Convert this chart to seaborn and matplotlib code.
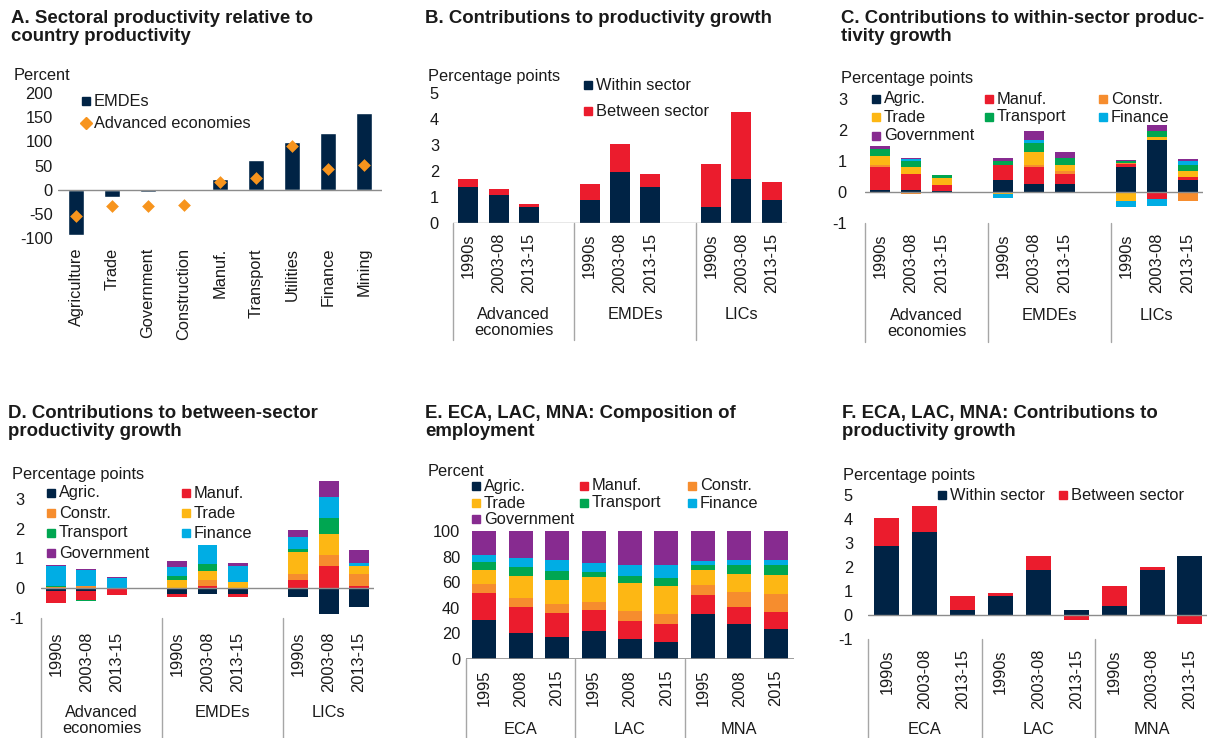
import numpy as np
import seaborn as sns
import matplotlib.pyplot as plt
from matplotlib.patches import Rectangle
from matplotlib.lines import Line2D

sns.set_theme(style='white')
plt.rcParams['font.family'] = ['Liberation Sans', 'DejaVu Sans']
plt.rcParams['axes.unicode_minus'] = False

# ---- data ----
sectors_a = ['Agriculture', 'Trade', 'Government', 'Construction', 'Manuf.',
             'Transport', 'Utilities', 'Finance', 'Mining']
emde_a = [-93, -16, -5, -3, 23, 61, 99, 117, 159]
adv_a = [-55, -34, -34, -32, 15, 24, 91, 43, 50]

periods = ['1990s', '2003-08', '2013-15']
groups_abc = ['Advanced\neconomies', 'EMDEs', 'LICs']
regions = ['ECA', 'LAC', 'MNA']
years = ['1995', '2008', '2015']

within_b = [1.39, 1.08, 0.62, 0.90, 1.97, 1.39, 0.62, 1.69, 0.90]
between_b = [0.30, 0.21, 0.10, 0.60, 1.07, 0.49, 1.65, 2.56, 0.68]

sector_names = ['Agric.', 'Manuf.', 'Constr.', 'Trade', 'Transport', 'Finance', 'Government']

# within-sector contributions (panel C)
agric_c = [0.08, 0.08, 0.02, 0.38, 0.27, 0.27, 0.80, 1.69, 0.38]
manuf_c = [0.72, 0.51, 0.20, 0.50, 0.53, 0.32, 0.09, -0.22, 0.11]
constr_c = [0.08, -0.08, 0.0, 0.0, 0.08, 0.08, 0.05, 0.0, -0.30]
trade_c = [0.29, 0.21, 0.22, -0.08, 0.42, 0.21, -0.30, 0.08, 0.19]
transport_c = [0.22, 0.19, 0.10, 0.13, 0.28, 0.21, 0.06, 0.21, 0.20]
finance_c = [0.0, 0.08, 0.0, -0.12, 0.11, 0.0, -0.20, -0.22, 0.12]
govt_c = [0.09, 0.03, 0.0, 0.09, 0.29, 0.21, 0.04, 0.19, 0.07]

# between-sector contributions (panel D)
agric_d = [-0.10, -0.10, 0.0, -0.20, -0.20, -0.20, -0.30, -0.85, -0.62]
manuf_d = [-0.40, -0.30, -0.23, -0.10, 0.09, -0.10, 0.28, 0.73, 0.09]
constr_d = [0.03, 0.09, 0.0, 0.0, 0.19, 0.0, 0.20, 0.39, 0.39]
trade_d = [0.0, 0.0, 0.0, 0.29, 0.30, 0.20, 0.74, 0.71, 0.25]
transport_d = [0.05, -0.03, 0.0, 0.13, 0.22, 0.02, 0.08, 0.53, 0.0]
finance_d = [0.68, 0.51, 0.34, 0.30, 0.64, 0.54, 0.43, 0.71, 0.10]
govt_d = [0.02, 0.05, 0.02, 0.19, 0.02, 0.08, 0.21, 0.53, 0.44]

# employment shares (panel E)
agric_e = [30.6, 20.3, 16.9, 22.1, 15.3, 13.0, 35.1, 27.0, 23.6]
manuf_e = [21.3, 20.0, 18.7, 15.8, 14.3, 14.0, 15.0, 13.3, 12.8]
constr_e = [6.8, 7.0, 7.0, 6.3, 8.1, 7.8, 8.1, 12.2, 14.0]
trade_e = [10.9, 17.6, 19.5, 20.2, 22.0, 22.3, 11.2, 14.0, 15.1]
transport_e = [6.5, 7.0, 7.0, 3.9, 5.5, 5.8, 4.4, 7.0, 7.7]
finance_e = [5.5, 7.3, 8.6, 7.0, 8.3, 10.3, 2.8, 3.9, 4.2]
govt_e = [18.4, 20.8, 22.3, 24.7, 26.5, 26.8, 23.4, 22.6, 22.6]

within_f = [2.88, 3.47, 0.21, 0.80, 1.89, 0.21, 0.39, 1.89, 2.46]
between_f = [1.18, 1.07, 0.59, 0.10, 0.57, -0.19, 0.81, 0.10, -0.38]

# ---- style ----
navy = '#002345'
red = '#EB1C2D'
orange = '#F68D2E'
yellow = '#FDB714'
green = '#00A651'
cyan = '#00ADE4'
purple = '#872B90'
sector_colors = [navy, red, orange, yellow, green, cyan, purple]
sepc = '#a6a6a6'
zeroc = '#8c8c8c'
txt = '#1a1a1a'
fs = 11.8

W, H = 1208, 738
fig = plt.figure(figsize=(W / 100, H / 100), dpi=100)


def panel(left, top, right, bottom):
    ax = fig.add_axes([left / W, 1 - bottom / H, (right - left) / W, (bottom - top) / H])
    for s in ax.spines.values():
        s.set_visible(False)
    ax.tick_params(length=0, labelsize=fs, colors=txt)
    return ax


def fig_text(x, y, s, **kw):
    fig.text(x / W, 1 - y / H, s, color=txt, **kw)


def key(x, y, color, label, marker='s'):
    if marker == 's':
        fig.add_artist(Rectangle(((x - 4) / W, 1 - (y + 4) / H), 8 / W, 8 / H,
                                 color=color, transform=fig.transFigure))
    else:
        fig.add_artist(Line2D([x / W], [1 - y / H], marker='D', ms=6.5, color=color,
                              lw=0, transform=fig.transFigure))
    fig_text(x + 8, y, label, fontsize=fs, va='center', ha='left')


def stacked(ax, x, series, colors, width):
    pos = np.zeros(len(x))
    neg = np.zeros(len(x))
    for vals, c in zip(series, colors):
        v = np.asarray(vals, float)
        base = np.where(v >= 0, pos, neg)
        sns.barplot(x=x, y=v, bottom=base, native_scale=True, width=width, color=c,
                    saturation=1, errorbar=None, linewidth=0, ax=ax)
        pos += np.clip(v, 0, None)
        neg += np.clip(v, None, 0)


def group_axis(ax, x, ticklabels, pad_px, seps, centers, labels, label_px, sep_px, h_px):
    ax.set_xticks(x, ticklabels, rotation=90, va='top', ha='center')
    ax.tick_params(axis='x', pad=pad_px * 0.72)
    tr = ax.get_xaxis_transform()
    for s in seps:
        ax.plot([s, s], [0, -sep_px / h_px], transform=tr, color=sepc, lw=1, clip_on=False)
    for c, lab in zip(centers, labels):
        ax.text(c, -label_px / h_px, lab, transform=tr, ha='center', va='top',
                fontsize=fs, color=txt, linespacing=1.1)
    ax.set_xlabel('')
    ax.set_ylabel('')


def title(x, y, s):
    fig_text(x, y, s, fontsize=13.4, fontweight='bold', va='top', ha='left', linespacing=1.1)


x4 = [g * 4 + i for g in range(3) for i in range(3)]
x3 = [g * 3 + i for g in range(3) for i in range(3)]

# ---- A ----
ax = panel(58, 93, 382, 238)
sns.barplot(x=sectors_a, y=emde_a, color=navy, saturation=1, width=0.42, errorbar=None, ax=ax)
sns.stripplot(x=sectors_a, y=adv_a, color='#F7941D', marker='D', size=6.5, jitter=False,
              linewidth=0, ax=ax, zorder=3)
ax.axhline(0, color=zeroc, lw=1)
ax.set_ylim(-100, 200)
ax.set_xlim(-0.5, 8.5)
ax.set_yticks([-100, -50, 0, 50, 100, 150, 200])
ax.tick_params(axis='y', pad=5 * 0.72)
ax.set_xticks(range(9), sectors_a, rotation=90, va='top', ha='center')
ax.tick_params(axis='x', pad=10 * 0.72)
ax.set_xlabel('')
ax.set_ylabel('')
title(11, 10, 'A. Sectoral productivity relative to\ncountry productivity')
fig_text(14, 75, 'Percent', fontsize=fs, va='center')
key(86, 101, navy, 'EMDEs')
key(86, 123, '#F7941D', 'Advanced economies', marker='D')

# ---- B ----
ax = panel(453, 93, 787, 223)
stacked(ax, x4, [within_b, between_b], [navy, red], 0.66)
ax.axhline(0, color=zeroc, lw=1)
ax.set_ylim(0, 5)
ax.set_xlim(-0.5, 10.5)
ax.set_yticks(range(6))
ax.tick_params(axis='y', pad=14 * 0.72)
group_axis(ax, x4, periods * 3, 10, [-0.5, 3.5, 7.5], [1.5, 5.5, 9.0], groups_abc, 84, 117, 130)
title(425, 10, 'B. Contributions to productivity growth')
fig_text(428, 77, 'Percentage points', fontsize=fs, va='center')
key(588, 85, navy, 'Within sector')
key(588, 111, red, 'Between sector')

# ---- C ----
ax = panel(865, 99, 1203, 223)
stacked(ax, x4, [agric_c, manuf_c, constr_c, trade_c, transport_c, finance_c, govt_c],
        sector_colors, 0.65)
ax.axhline(0, color=zeroc, lw=1)
ax.set_ylim(-1, 3)
ax.set_xlim(-0.5, 10.5)
ax.set_yticks([-1, 0, 1, 2, 3])
ax.tick_params(axis='y', pad=18 * 0.72)
group_axis(ax, x4, periods * 3, 10, [-0.5, 3.5, 7.5], [1.5, 5.5, 9.0], groups_abc, 85, 119, 124)
title(841, 10, 'C. Contributions to within-sector produc-\ntivity growth')
fig_text(841, 78, 'Percentage points', fontsize=fs, va='center')
for i, (n, c) in enumerate(zip(sector_names, sector_colors)):
    key([876, 989, 1103][i % 3], [99, 117, 136][i // 3], c, n)

# ---- D ----
ax = panel(41, 478, 374, 618)
stacked(ax, x4, [agric_d, manuf_d, constr_d, trade_d, transport_d, finance_d, govt_d],
        sector_colors, 0.66)
ax.axhline(0, color=zeroc, lw=1)
ax.set_ylim(-1, 3.7)
ax.set_xlim(-0.5, 10.5)
ax.set_yticks([-1, 0, 1, 2, 3])
ax.tick_params(axis='y', pad=17 * 0.72)
group_axis(ax, x4, periods * 3, 14, [-0.5, 3.5, 7.5], [1.5, 5.5, 9.0], groups_abc, 87, 120, 140)
title(8, 405, 'D. Contributions to between-sector\nproductivity growth')
fig_text(12, 474, 'Percentage points', fontsize=fs, va='center')
for i, (n, c) in enumerate(zip(sector_names, sector_colors)):
    key([51, 186][i % 2], [493, 513, 533, 553][i // 2], c, n)

# ---- E ----
ax = panel(466, 531, 794, 659)
stacked(ax, x3, [agric_e, manuf_e, constr_e, trade_e, transport_e, finance_e, govt_e],
        sector_colors, 0.66)
ax.axhline(0, color=zeroc, lw=1.2)
ax.set_ylim(0, 100)
ax.set_xlim(-0.5, 8.5)
ax.set_yticks(range(0, 101, 20))
ax.tick_params(axis='y', pad=6 * 0.72)
group_axis(ax, x3, years * 3, 11, [-0.5, 2.5, 5.5], [1, 4, 7], regions, 63, 79, 128)
title(425, 405, 'E. ECA, LAC, MNA: Composition of\nemployment')
fig_text(428, 472, 'Percent', fontsize=fs, va='center')
for i, (n, c) in enumerate(zip(sector_names, sector_colors)):
    key([476, 584, 692][i % 3], [486, 503, 519][i // 3], c, n)

# ---- F ----
ax = panel(868, 495, 1207, 639)
stacked(ax, x3, [within_f, between_f], [navy, red], 0.66)
ax.axhline(0, color=zeroc, lw=1)
ax.set_ylim(-1, 5)
ax.set_xlim(-0.5, 8.45)
ax.set_yticks(range(-1, 6))
ax.tick_params(axis='y', pad=15 * 0.72)
group_axis(ax, x3, periods * 3, 10, [-0.5, 2.5, 5.5], [1, 4, 7], regions, 83, 99, 144)
title(842, 405, 'F. ECA, LAC, MNA: Contributions to\nproductivity growth')
fig_text(843, 476, 'Percentage points', fontsize=fs, va='center')
key(942, 495, navy, 'Within sector')
key(1063, 495, red, 'Between sector')

fig.savefig('out.png', dpi=100)
